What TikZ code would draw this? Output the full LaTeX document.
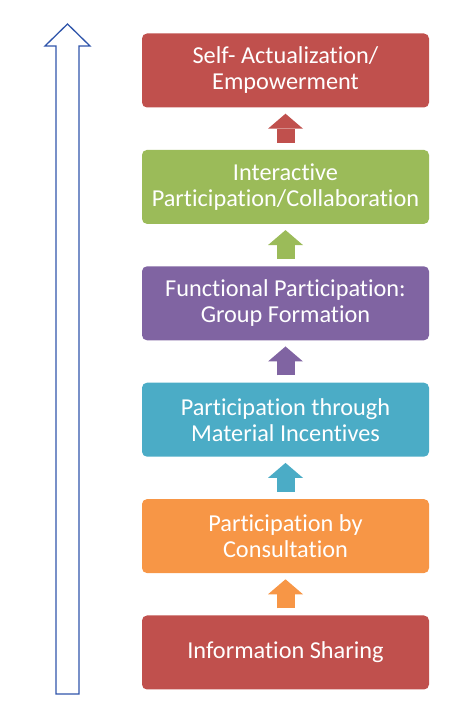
\documentclass[tikz,border=0pt]{standalone}
\usepackage{fontspec}
\setmainfont{Carlito}[Ligatures=NoCommon]
\usetikzlibrary{arrows.meta,positioning}
\definecolor{lvred}{HTML}{C0504D}
\definecolor{lvgreen}{HTML}{9BBB59}
\definecolor{lvpurple}{HTML}{8064A2}
\definecolor{lvteal}{HTML}{4BACC6}
\definecolor{lvorange}{HTML}{F79646}
\definecolor{lvblue}{RGB}{47,85,170}

\begin{document}
\begin{tikzpicture}[
  x=1pt, y=1pt,
  node distance=42pt,
  level/.style={rounded corners=5pt, align=center, text=white, font=\fontsize{24.3}{26}\selectfont, minimum width=287pt, minimum height=74pt, inner sep=0pt},
  up/.style={line width=18pt, -{Triangle[width=35pt,length=15pt,line width=0pt]}, shorten <=7pt, shorten >=6pt},
  bigarrow/.style={draw=lvblue, line width=1.3pt, line join=miter}
]
\useasboundingbox (0,0) rectangle (466,707);
\node[level, fill=lvred] (n1) at (285.5,636.5) {Self- Actualization/\\Empowerment};
\node[level, fill=lvgreen, below=of n1] (n2) {Interactive\\Participation/Collaboration};
\node[level, fill=lvpurple, below=of n2] (n3) {Functional Participation:\\Group Formation};
\node[level, fill=lvteal, below=of n3] (n4) {Participation through\\Material Incentives};
\node[level, fill=lvorange, below=of n4] (n5) {Participation by\\Consultation};
\node[level, fill=lvred, below=of n5] (n6) {Information Sharing};
\draw[up, lvred] (n2.north) -- (n1.south);
\draw[up, lvgreen] (n3.north) -- (n2.south);
\draw[up, lvpurple] (n4.north) -- (n3.south);
\draw[up, lvteal] (n5.north) -- (n4.south);
\draw[up, lvorange] (n6.north) -- (n5.south);
% outline arrow on the left
\draw[bigarrow] (56,13) -- (56,661) -- (45,661) -- (67.5,683) -- (90,661) -- (79,661) -- (79,13) -- cycle;
\end{tikzpicture}
\end{document}
